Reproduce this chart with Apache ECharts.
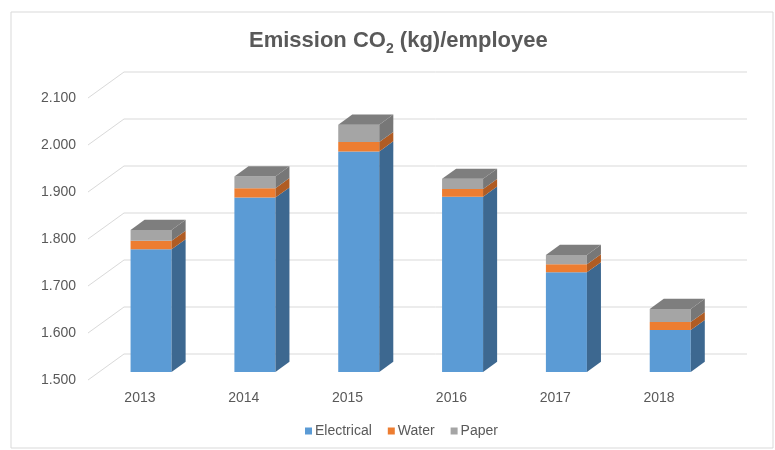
<!DOCTYPE html>
<html>
<head>
<meta charset="utf-8">
<script src="https://cdn.jsdelivr.net/npm/echarts@6/dist/echarts.min.js"></script>
<style>html,body{margin:0;padding:0;background:#fff}#c{width:775px;height:450px}</style>
</head>
<body>
<div id="c"></div>
<script>
var years = ['2013', '2014', '2015', '2016', '2017', '2018'];
var electrical = [1761, 1871, 1969, 1873, 1712, 1589];
var water = [18, 20, 20, 16, 17, 17];
var paper = [23, 25, 37, 22, 20, 28];
var yTicks = [1500, 1600, 1700, 1800, 1900, 2000, 2100];

var DX = 36, DY = -26;          // depth of the 3D box
var F1 = 0.31, F2 = 0.70;       // bar front/back depth fractions
var BAR_W = 0.395;              // bar width relative to band

function fmt(v) {
  var s = String(Math.round(v));
  return s.replace(/\B(?=(\d{3})+(?!\d))/g, '.');
}

var bottoms1 = electrical.map(function () { return 1500; });
var tops1 = electrical.slice();
var tops2 = electrical.map(function (e, i) { return e + water[i]; });
var tops3 = tops2.map(function (t, i) { return t + paper[i]; });

function barRender(front, side, top, withTop) {
  return function (params, api) {
    var cat = api.value(0);
    var lo = api.coord([cat, api.value(1)]);
    var hi = api.coord([cat, api.value(2)]);
    var band = api.size([1, 0])[0];
    var w = band * BAR_W;
    var ox = DX * F1, oy = DY * F1;
    var bx = DX * (F2 - F1), by = DY * (F2 - F1);
    var xl = lo[0] + ox - w / 2, xr = lo[0] + ox + w / 2;
    var yb = lo[1] + oy, yt = hi[1] + oy;
    var children = [
      { type: 'rect', shape: { x: xl, y: yt, width: w, height: yb - yt }, style: { fill: front } },
      { type: 'polygon', shape: { points: [[xr, yb], [xr + bx, yb + by], [xr + bx, yt + by], [xr, yt]] }, style: { fill: side } }
    ];
    if (withTop) {
      children.push({ type: 'polygon', shape: { points: [[xl, yt], [xr, yt], [xr + bx, yt + by], [xl + bx, yt + by]] }, style: { fill: top } });
    }
    return { type: 'group', children: children };
  };
}

function mk(name, los, his, front, side, top, withTop) {
  return {
    name: name,
    type: 'custom',
    renderItem: barRender(front, side, top, withTop),
    itemStyle: { color: front },
    encode: { x: 0, y: [1, 2] },
    data: years.map(function (y, i) { return [i, los[i], his[i]]; }),
    z: 3
  };
}

var chart = echarts.init(document.getElementById('c'));
chart.setOption({
  backgroundColor: '#fff',
  animation: false,
  textStyle: { fontFamily: 'Liberation Sans, Arial, sans-serif' },
  title: {
    text: '{a|Emission CO}{b|2}{a| (kg)/employee}',
    left: 244,
    top: 19,
    textStyle: {
      rich: {
        a: { fontSize: 22, fontWeight: 'bold', color: '#595959', fontFamily: 'Liberation Sans', lineHeight: 28, verticalAlign: 'bottom' },
        b: { fontSize: 14, fontWeight: 'bold', color: '#595959', fontFamily: 'Liberation Sans', lineHeight: 28, verticalAlign: 'bottom', padding: [0, 0, -4, 0] }
      }
    }
  },
  graphic: [{
    type: 'rect', shape: { x: 11, y: 12, width: 762, height: 436 },
    style: { fill: 'none', stroke: '#d9d9d9', lineWidth: 1 }, silent: true, z: -1
  }],
  legend: {
    data: ['Electrical', 'Water', 'Paper'],
    bottom: 7,
    left: 300,
    icon: 'rect',
    itemWidth: 7,
    itemHeight: 7,
    itemGap: 16,
    textStyle: { color: '#595959', fontSize: 14, padding: [0, 0, 0, -2] }
  },
  grid: { left: 88, right: 64, top: 98, bottom: 70 },
  xAxis: {
    type: 'category',
    data: years,
    axisLine: { show: false },
    axisTick: { show: false },
    axisLabel: { color: '#595959', fontSize: 14, margin: 11 }
  },
  yAxis: {
    type: 'value',
    min: 1500, max: 2100, interval: 100,
    axisLine: { show: false },
    axisTick: { show: false },
    splitLine: { show: false },
    axisLabel: { color: '#595959', fontSize: 14, margin: 12, formatter: fmt }
  },
  series: [
    {
      name: 'gridlines',
      type: 'custom',
      silent: true,
      z: 1,
      renderItem: function (params, api) {
        var v = api.value(1);
        var p0 = api.coord([0, v]);
        var p1 = api.coord([years.length - 1, v]);
        var band = api.size([1, 0])[0];
        var x0 = p0[0] - band / 2, x1 = p1[0] + band / 2, y = p0[1];
        return {
          type: 'polyline',
          shape: { points: [[x0, y], [x0 + DX, y + DY], [x1 + DX, y + DY]] },
          style: { stroke: '#d9d9d9', lineWidth: 1, fill: 'none' }
        };
      },
      data: yTicks.map(function (v) { return [0, v]; })
    },
    mk('Electrical', bottoms1, tops1, '#5B9BD5', '#3D6890', null, false),
    mk('Water', tops1, tops2, '#ED7D31', '#B05C24', null, false),
    mk('Paper', tops2, tops3, '#A5A5A5', '#777777', '#7E7E7E', true)
  ]
});
</script>
</body>
</html>
